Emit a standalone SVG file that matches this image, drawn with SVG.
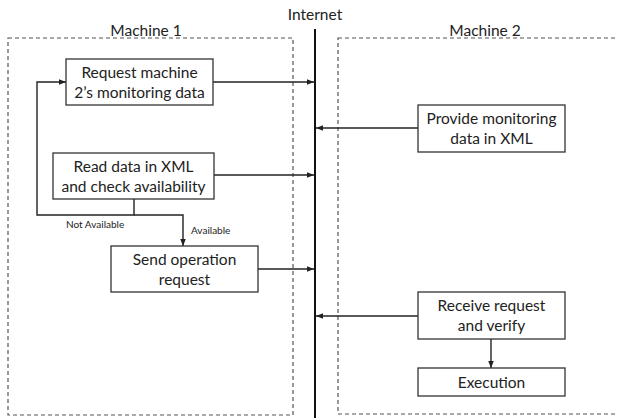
<svg xmlns="http://www.w3.org/2000/svg" width="618" height="418" viewBox="0 0 618 418">
  <style>
    .frame { fill: none; stroke: #555; stroke-width: 1.2; stroke-dasharray: 4 3; }
    .node rect { fill: #fff; stroke: #333; stroke-width: 1.3; }
    .node text, .title { font-family: "Lato", "Liberation Sans", sans-serif; font-size: 15.5px; fill: #222; text-anchor: middle; }
    .small { font-family: "Lato", "Liberation Sans", sans-serif; font-size: 10px; fill: #222; }
    .edge { fill: none; stroke: #222; stroke-width: 1.4; }
    .arrow { marker-end: url(#head); }
  </style>
  <defs>
    <marker id="head" viewBox="0 0 10 10" refX="10" refY="5" markerWidth="7" markerHeight="7" markerUnits="userSpaceOnUse" orient="auto">
      <path d="M0,1 L10,5 L0,9 z" fill="#222"/>
    </marker>
  </defs>
  <rect width="618" height="418" fill="#fff"/>

  <!-- machine frames and network line -->
  <g id="machine1">
    <rect class="frame" x="8" y="38" width="285" height="377"/>
    <text class="title" x="146" y="36">Machine 1</text>
  </g>
  <g id="machine2">
    <rect class="frame" x="338" y="38" width="290" height="376"/>
    <text class="title" x="485" y="36">Machine 2</text>
  </g>
  <g id="internet">
    <line x1="315" y1="29" x2="315" y2="418" stroke="#111" stroke-width="2"/>
    <text class="title" x="315" y="20">Internet</text>
  </g>

  <g id="connectors">
    <path class="edge arrow" d="M213,82 H314"/>
    <path class="edge arrow" d="M418,128 H316"/>
    <path class="edge arrow" d="M214,175 H314"/>
    <path class="edge arrow" d="M258,269 H314"/>
    <path class="edge arrow" d="M418,316 H316"/>
    <path class="edge arrow" d="M491,339 V368"/>
    <path class="edge arrow" d="M134,199 V215 H37 V82 H66"/>
    <path class="edge arrow" d="M134,215 H183 V246"/>
    <text class="small" x="66" y="228">Not Available</text>
    <text class="small" x="191" y="234">Available</text>
  </g>

  <g id="request" class="node">
    <rect x="66" y="59" width="147" height="46"/>
    <text x="139.5" y="78">Request machine</text>
    <text x="139.5" y="98">2’s monitoring data</text>
  </g>
  <g id="read" class="node">
    <rect x="53" y="153" width="161" height="46"/>
    <text x="133.5" y="172">Read data in XML</text>
    <text x="133.5" y="192">and check availability</text>
  </g>
  <g id="send" class="node">
    <rect x="111" y="246" width="147" height="46"/>
    <text x="184.5" y="265">Send operation</text>
    <text x="184.5" y="285">request</text>
  </g>
  <g id="provide" class="node">
    <rect x="418" y="105" width="147" height="47"/>
    <text x="491.5" y="124">Provide monitoring</text>
    <text x="491.5" y="144">data in XML</text>
  </g>
  <g id="receive" class="node">
    <rect x="418" y="292" width="147" height="47"/>
    <text x="491.5" y="311">Receive request</text>
    <text x="491.5" y="331">and verify</text>
  </g>
  <g id="execution" class="node">
    <rect x="418" y="368" width="147" height="28"/>
    <text x="491.5" y="388">Execution</text>
  </g>
</svg>
